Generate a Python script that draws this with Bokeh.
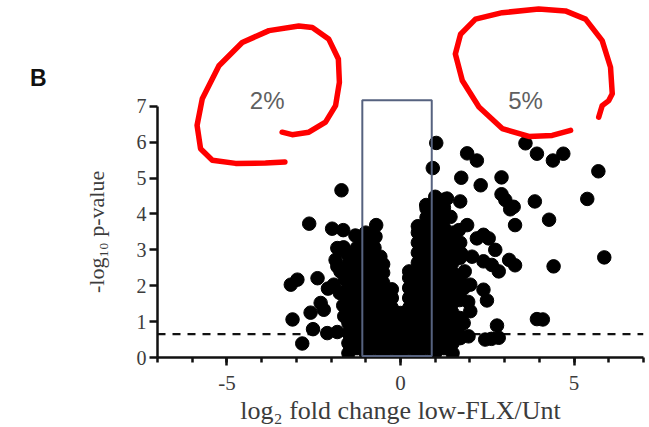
from bokeh.plotting import figure
from bokeh.models import (FixedTicker, Range1d, Span, BoxAnnotation, Label, LinearAxis)
from bokeh.embed import file_html
from bokeh.resources import INLINE

# ---------------- data ----------------
# scattered genes, left of the box (down-regulated)
left_x = [-1.70, -2.63, -1.97, -1.65, -1.30, -0.70, -0.72, -0.58, -0.91, -1.64,
          -1.82, -1.54, -1.87, -1.49, -1.73, -1.82, -1.60, -1.75, -2.97, -3.16,
          -2.39, -2.09, -1.92, -1.53, -2.30, -2.21, -2.59, -3.11, -1.44, -1.62,
          -1.65, -1.39, -1.15, -2.52, -2.11, -1.82, -2.83, -1.44, -1.44, -1.24]
left_y = [4.66, 3.73, 3.59, 3.55, 3.40, 3.69, 3.37, 2.81, 3.09, 3.07,
          3.05, 2.90, 2.72, 2.63, 2.40, 2.54, 2.20, 1.80, 2.17, 2.03,
          2.21, 1.92, 2.03, 2.08, 1.52, 1.33, 1.25, 1.06, 1.38, 1.15,
          1.45, 1.52, 1.89, 0.79, 0.68, 0.71, 0.39, 0.50, 0.25, 0.96]

# scattered genes, right of the box (up-regulated)
right_x = [1.03, 0.93, 0.74, 1.92, 2.20, 3.60, 3.93, 4.39, 4.69, 5.70,
           1.75, 2.31, 2.91, 2.91, 3.02, 3.16, 3.26, 3.30, 3.87, 1.72,
           1.34, 5.38, 4.28, 2.39, 2.20, 2.54, 2.73, 2.06, 2.39, 2.63,
           2.83, 3.13, 3.30, 4.41, 5.87, 2.01, 1.82, 2.39, 2.49, 2.01,
           1.82, 2.78, 1.96, 2.44, 2.62, 2.83, 3.93, 4.10, 1.44, 1.68,
           1.92, 1.60, 1.75, 1.85, 1.70, 1.95, 1.65]
right_y = [5.98, 5.28, 4.25, 5.69, 5.49, 5.97, 5.68, 5.49, 5.68, 5.19,
           5.01, 4.80, 5.02, 4.55, 4.39, 4.13, 4.20, 3.69, 4.35, 4.35,
           4.43, 4.42, 3.84, 3.42, 3.32, 3.32, 3.00, 2.81, 2.68, 2.58,
           2.40, 2.72, 2.57, 2.54, 2.79, 2.03, 1.93, 1.89, 1.59, 1.29,
           0.96, 0.89, 0.59, 0.50, 0.52, 0.55, 1.07, 1.06, 3.92, 3.55,
           3.69, 3.20, 2.90, 2.40, 1.60, 1.55, 0.75]

# dense central cloud, read column by column (x of column, y values in it)
cloud_cols = [-1.5, -1.25, -1.0, -0.75, -0.5, -0.25, 0.0, 0.25, 0.5, 0.75, 1.0, 1.25, 1.5, 1.72]
cloud_vals = [
    [0.12, 0.40, 0.68, 0.96, 1.24, 1.52, 1.80, 2.08, 2.36],
    [0.26, 0.54, 0.82, 1.10, 1.38, 1.66, 1.94, 2.22, 2.50, 2.78, 3.06],
    [0.12, 0.40, 0.68, 0.96, 1.24, 1.52, 1.80, 2.08, 2.36, 2.64, 2.92, 3.20, 3.48],
    [0.26, 0.54, 0.82, 1.10, 1.38, 1.66, 1.94, 2.22, 2.50, 2.78, 3.06, 3.34],
    [0.12, 0.40, 0.68, 0.96, 1.24, 1.52, 1.80, 2.08, 2.36, 2.60],
    [0.26, 0.54, 0.82, 1.10, 1.38, 1.66, 1.90],
    [0.12, 0.40, 0.68, 0.96, 1.24],
    [0.26, 0.54, 0.82, 1.10, 1.38, 1.66, 1.94, 2.22, 2.40],
    [0.12, 0.40, 0.68, 0.96, 1.24, 1.52, 1.80, 2.08, 2.36, 2.64, 2.92, 3.20, 3.48, 3.66],
    [0.26, 0.54, 0.82, 1.10, 1.38, 1.66, 1.94, 2.22, 2.50, 2.78, 3.06, 3.34, 3.62, 3.90, 4.15],
    [0.12, 0.40, 0.68, 0.96, 1.24, 1.52, 1.80, 2.08, 2.36, 2.64, 2.92, 3.20, 3.48, 3.76, 4.04, 4.32, 4.48],
    [0.26, 0.54, 0.82, 1.10, 1.38, 1.66, 1.94, 2.22, 2.50, 2.78, 3.06, 3.34, 3.62, 3.90, 4.18, 4.40],
    [0.12, 0.40, 0.68, 0.96, 1.24, 1.52, 1.80, 2.08, 2.36, 2.64, 2.92, 3.20, 3.48],
    [0.54, 1.10, 1.66, 2.22, 2.78, 3.20],
]

# thresholds
fc_low, fc_high = -1.1, 0.9        # fold-change window (box)
box_bottom, box_top = 0.04, 7.17
p_cut = 0.65                        # dashed significance line

x_ticks = [-5, 0, 5]
x_minor = list(range(-7, 8))
y_ticks = list(range(0, 8))

x_title = "log\u2082 fold change low-FLX/Unt"
y_title = "-log\u2081\u2080 p-value"
panel_letter = "B"
pct_left, pct_right = "2%", "5%"

# hand-drawn red annotation rings (data coordinates)
ring1_x = [-3.41, -3.12, -2.64, -2.16, -1.87, -1.76, -1.79, -2.07, -2.54, -2.93,
           -3.79, -4.56, -5.23, -5.71, -5.86, -5.76, -5.42, -4.75, -3.89, -3.33]
ring1_y = [6.28, 6.21, 6.28, 6.56, 7.02, 7.67, 8.32, 8.88, 9.20, 9.24,
           9.11, 8.78, 8.13, 7.21, 6.47, 5.82, 5.50, 5.41, 5.42, 5.45]
ring2_x = [4.90, 4.37, 3.70, 2.93, 2.26, 1.78, 1.58, 1.73, 2.16, 2.93,
           3.98, 4.75, 5.33, 5.81, 6.05, 6.10, 6.00, 5.81, 5.71]
ring2_y = [6.33, 6.19, 6.16, 6.38, 6.98, 7.72, 8.46, 9.01, 9.43, 9.61,
           9.71, 9.66, 9.43, 8.83, 8.09, 7.35, 7.16, 7.02, 6.70]

# ---------------- figure ----------------
p = figure(width=649, height=427, output_backend="svg", toolbar_location=None,
           x_range=Range1d(-7, 7), y_range=Range1d(0, 9.95),
           min_border_left=157, min_border_right=6, min_border_top=0,
           min_border_bottom=69)
p.outline_line_color = None
p.grid.visible = False
p.background_fill_color = "white"
p.border_fill_color = "white"

serif = "Liberation Serif"
tick_col = "#3c3c3c"

xa = p.xaxis[0]
xa.ticker = FixedTicker(ticks=x_ticks, minor_ticks=x_minor)
xa.bounds = (-7, 7)
xa.axis_label = x_title
xa.axis_label_text_font = serif
xa.axis_label_text_font_size = "26px"
xa.axis_label_text_font_style = "normal"
xa.axis_label_text_color = tick_col
xa.axis_label_standoff = 3
xa.major_label_text_font = serif
xa.major_label_text_font_size = "21px"
xa.major_label_text_color = tick_col
xa.major_label_standoff = 10
xa.major_label_overrides = {t: str(t) for t in x_ticks}

ya = p.yaxis[0]
ya.ticker = FixedTicker(ticks=y_ticks, minor_ticks=[])
ya.bounds = (0, 7)
ya.major_label_text_font = serif
ya.major_label_text_font_size = "20px"
ya.major_label_text_color = tick_col
ya.major_label_standoff = 3

for ax in (xa, ya):
    ax.axis_line_color = "#111111"
    ax.axis_line_width = 2.5
    ax.major_tick_line_color = "#111111"
    ax.major_tick_line_width = 2.5
    ax.major_tick_in = 0
    ax.major_tick_out = 8
    ax.minor_tick_line_color = "#111111"
    ax.minor_tick_line_width = 2.5
    ax.minor_tick_in = 0
    ax.minor_tick_out = 5

# y-axis title centred on the 0..7 span (an outer left axis carrying one label)
title_pos = 3.5
ta = LinearAxis(ticker=FixedTicker(ticks=[title_pos], minor_ticks=[]),
                major_label_overrides={title_pos: y_title},
                major_label_orientation="vertical",
                major_label_text_font=serif, major_label_text_font_size="22px",
                major_label_text_color=tick_col, major_label_standoff=24,
                axis_line_color=None, major_tick_line_color=None,
                minor_tick_line_color=None, major_tick_out=0, major_tick_in=0)
p.add_layout(ta, "left")

# panel letter, further out on the left
letter_pos = 7.78
la = LinearAxis(ticker=FixedTicker(ticks=[letter_pos], minor_ticks=[]),
                major_label_overrides={letter_pos: panel_letter},
                major_label_orientation="horizontal",
                major_label_text_font="Liberation Sans",
                major_label_text_font_style="bold",
                major_label_text_font_size="23px",
                major_label_text_color="#111111", major_label_standoff=35,
                axis_line_color=None, major_tick_line_color=None,
                minor_tick_line_color=None, major_tick_out=0, major_tick_in=0)
p.add_layout(la, "left")

# dashed threshold line under the points
p.add_layout(Span(location=p_cut, dimension="width", line_color="#111111",
                  line_width=2.2, line_dash="8 7", level="underlay"))

# points
cx, cy = [], []
for xc, vals in zip(cloud_cols, cloud_vals):
    for v in vals:
        cx.append(xc)
        cy.append(v)
p.scatter(cx, cy, size=13.5, color="black")
p.scatter(left_x, left_y, size=13.5, color="black")
p.scatter(right_x, right_y, size=13.5, color="black")

# fold-change window
p.add_layout(BoxAnnotation(left=fc_low, right=fc_high, bottom=box_bottom, top=box_top,
                           fill_alpha=0, fill_color=None, line_color="#56627f",
                           line_alpha=1.0, line_width=2, level="overlay"))

# percentages
p.add_layout(Label(x=-3.84, y=7.16, text=pct_left, text_align="center",
                   text_baseline="middle", text_font="Liberation Sans",
                   text_font_size="24px", text_color="#606060"))
p.add_layout(Label(x=3.60, y=7.16, text=pct_right, text_align="center",
                   text_baseline="middle", text_font="Liberation Sans",
                   text_font_size="24px", text_color="#606060"))

# red rings
p.line(ring1_x, ring1_y, line_color="#ff0000", line_width=5.5,
       line_cap="round", line_join="round")
p.line(ring2_x, ring2_y, line_color="#ff0000", line_width=5.5,
       line_cap="round", line_join="round")

open("out.html", "w").write(file_html(p, INLINE))
